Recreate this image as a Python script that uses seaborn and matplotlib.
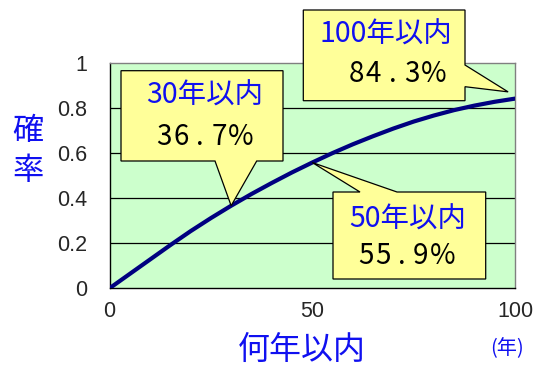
import matplotlib
matplotlib.use("Agg")
import matplotlib.pyplot as plt
from matplotlib.patches import Polygon
import seaborn as sns

# Cumulative probability of occurrence within N years
years = [0, 5, 10, 15, 20, 25, 30, 35, 40, 45, 50,
         55, 60, 65, 70, 75, 80, 85, 90, 95, 100]
probs = [0.0, 0.064, 0.128, 0.192, 0.254, 0.312, 0.367, 0.419, 0.468, 0.515, 0.559,
         0.601, 0.640, 0.676, 0.710, 0.741, 0.768, 0.792, 0.812, 0.829, 0.843]

x_ticks = [0, 50, 100]
y_ticks = [0, 0.2, 0.4, 0.6, 0.8, 1.0]
y_ticklabels = ["0", "0.2", "0.4", "0.6", "0.8", "1"]

callout_years = [30, 50, 100]
callout_titles = ["30年以内", "50年以内", "100年以内"]

sns.set_theme(style="white")
plt.rcParams["font.family"] = ["Noto Sans CJK JP", "DejaVu Sans"]

W, H = 535, 365
fig = plt.figure(figsize=(W / 100, H / 100), dpi=100)
fig.patch.set_facecolor("white")
ax = fig.add_axes([109.5 / W, 1 - 288.3 / H, (515 - 109.5) / W, (288.3 - 63.3) / H])
ax.set_facecolor("#CCFFCC")

BLUE = "#1010F0"
NAVY = "#000080"

sns.lineplot(x=years, y=probs, ax=ax, color=NAVY, linewidth=3.0, zorder=3)

ax.set_xlim(0, 100)
ax.set_ylim(0, 1)
ax.set_xticks(x_ticks)
ax.set_xticklabels([str(t) for t in x_ticks], fontfamily="Liberation Sans", fontsize=15.5)
ax.set_yticks(y_ticks)
ax.set_yticklabels(y_ticklabels, fontfamily="Liberation Sans", fontsize=15.5)
ax.tick_params(axis="x", direction="in", length=5, width=0.8, color="black", pad=9)
ax.tick_params(axis="y", length=0, pad=16)
ax.set_xlabel("")
ax.set_ylabel("")

for yv in y_ticks[1:-1]:
    ax.axhline(yv, color="black", linewidth=0.9, zorder=1)

for side in ("left", "bottom"):
    ax.spines[side].set_color("black")
    ax.spines[side].set_linewidth(1.0)
for side in ("top", "right"):
    ax.spines[side].set_color("#808080")
    ax.spines[side].set_linewidth(1.0)

# axis titles
fig.text(28 / W, 1 - 151 / H, "確\n率", color=BLUE, fontsize=22.5, ha="center",
         va="center", linespacing=1.35)
fig.text(301.7 / W, 1 - 350 / H, "何年以内", color=BLUE, fontsize=23, ha="center",
         va="center")
fig.text(507.5 / W, 1 - 349 / H, "(年)", color=BLUE, fontsize=14.5, ha="center",
         va="center")


def spaced_text(cx, cy, s, **kw):
    """Draw a percentage with wide, typewriter-like spacing centred at (cx, cy) pixels."""
    offsets = [0.0]
    for prev, ch in zip(s, s[1:]):
        if ch == "%":
            step = 22.0
        elif ch == "." or prev == ".":
            step = 19.0
        else:
            step = 17.0
        offsets.append(offsets[-1] + step)
    mid = offsets[-1] / 2
    for ch, off in zip(s, offsets):
        x = cx - mid + off
        fig.text(x / W, 1 - cy / H, ch, ha="center", va="center", zorder=7, **kw)


def px_to_data(px, py):
    return ((px - 109.5) / 4.055, (288.3 - py) / 225.0)


def callout(box, base, tip, side):
    """Box given as pixel (x0, y0, x1, y1); pointer base as two pixel positions on one side."""
    x0, y0, x1, y1 = box
    b0, b1 = base
    if side == "bottom":
        pts = [(x0, y0), (x1, y0), (x1, y1), (b1, y1), None, (b0, y1), (x0, y1)]
    elif side == "top":
        pts = [(x0, y0), (b0, y0), None, (b1, y0), (x1, y0), (x1, y1), (x0, y1)]
    else:  # right
        pts = [(x0, y0), (x1, y0), (x1, b0), None, (x1, b1), (x1, y1), (x0, y1)]
    data_pts = [tip if p is None else px_to_data(*p) for p in pts]
    ax.add_patch(Polygon(data_pts, closed=True, facecolor="#FFFF99", edgecolor="black",
                         linewidth=0.9, clip_on=False, zorder=6))


val = dict(zip(years, probs))

# 30 years
callout((121, 70.7, 283, 161), (215, 256.7), (30, val[30]), "bottom")
# 50 years
callout((333, 192, 485.7, 279), (360, 397), (50, val[50]), "top")
# 100 years
callout((303.3, 10, 465, 100.7), (65, 86.7), (100 - 1.7, val[100] + 0.03), "right")

title_pos = [(205, 96), (407.5, 219.5), (386, 35)]
value_pos = [(202.5, 137.5), (404.5, 255.5), (395, 74)]
for yr, title, tp, vp in zip(callout_years, callout_titles, title_pos, value_pos):
    fig.text(tp[0] / W, 1 - tp[1] / H, title, color=BLUE, fontsize=20.5,
             ha="center", va="center", zorder=7)
    spaced_text(vp[0], vp[1], f"{val[yr] * 100:.1f}%", color="black", fontsize=20)

fig.savefig("out.png", dpi=100)
